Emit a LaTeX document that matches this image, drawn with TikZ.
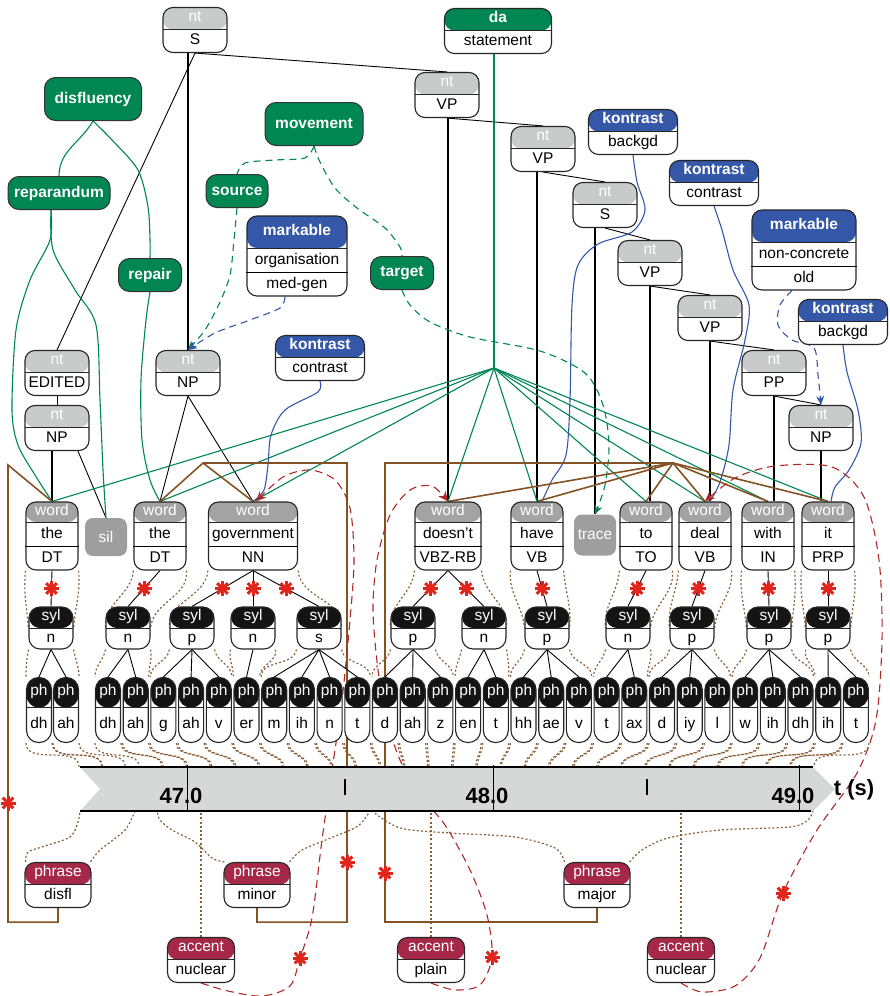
\documentclass[tikz,border=0pt]{standalone}
\usepackage{fontspec}
\setmainfont{Liberation Sans}
\usetikzlibrary{calc,arrows.meta,backgrounds}

\definecolor{ntgray}{RGB}{201,203,203}
\definecolor{wordgray}{RGB}{163,163,163}
\definecolor{silgray}{RGB}{158,158,158}
\definecolor{dagreen}{RGB}{0,134,82}
\definecolor{kblue}{RGB}{52,87,168}
\definecolor{phred}{RGB}{166,40,72}
\definecolor{framebrown}{RGB}{132,82,35}
\definecolor{dotbrown}{RGB}{140,96,55}
\definecolor{accred}{RGB}{176,40,40}
\definecolor{astred}{RGB}{224,38,28}
\definecolor{axisgray}{RGB}{214,216,216}

\tikzset{
  every node/.style={font=\fontsize{15.5}{18}\selectfont},
  boxbase/.style={draw=black!85, line width=1.1pt, fill=white, rounded corners=10pt, inner sep=0pt},
  head/.style 2 args={path picture={
      \fill[#1] (path picture bounding box.north west) rectangle ([yshift=-#2]path picture bounding box.north east);
      \draw[line width=1pt] ([yshift=-#2]path picture bounding box.north west) -- ([yshift=-#2]path picture bounding box.north east);}},
  ntbox/.style={boxbase, minimum width=64, minimum height=45, head={ntgray}{22}},
  dabox/.style={boxbase, minimum width=107, minimum height=45, head={dagreen}{22}},
  kbox/.style={boxbase, minimum width=89, minimum height=45, head={kblue}{22}},
  mkbox/.style={boxbase, minimum width=102, minimum height=80, head={kblue}{32}},
  wordbox/.style={boxbase, minimum width=52, minimum height=68, head={wordgray}{20}},
  sylbox/.style={boxbase, minimum width=44, minimum height=42, rounded corners=11pt, head={black!92}{21}},
  phbox/.style={boxbase, minimum width=25, minimum height=65, rounded corners=12pt, head={black!92}{30}},
  phrbox/.style={boxbase, minimum width=66, minimum height=45, head={phred}{22}},
  grnbox/.style={draw=black!80, line width=1pt, fill=dagreen, text=white, rounded corners=11pt,
    font=\bfseries\fontsize{15.5}{18}\selectfont, minimum height=33, inner sep=0pt},
  gapbox/.style={fill=silgray, rounded corners=8pt, text=white, minimum width=42, minimum height=38, inner sep=0pt},
  hdtxt/.style={text=white, inner sep=0pt, text height=10.5pt, text depth=3pt},
  bdtxt/.style={inner sep=0pt, text height=10.5pt, text depth=3pt},
  ticklbl/.style={inner sep=0pt, font=\bfseries\fontsize{22}{24}\selectfont},
  redast/.style={inner sep=0pt, minimum size=18pt, path picture={
      \foreach \a in {0,45,90,135}
        \draw[astred, line width=3pt] (path picture bounding box.center) ++(\a:7.5) -- ++(\a+180:15);}},
  treeline/.style={line width=.9pt},
  stemline/.style={line width=1.8pt},
  daline/.style={dagreen, line width=1.1pt},
  disline/.style={dagreen, line width=1.1pt},
  movline/.style={dagreen, line width=1.1pt, dash pattern=on 7pt off 5pt},
  kline/.style={kblue, line width=1.1pt},
  mkline/.style={kblue, line width=1.1pt, dash pattern=on 7pt off 5pt},
  accline/.style={accred, line width=1.1pt, dash pattern=on 8pt off 5pt},
  phrline/.style={framebrown, line width=1.6pt},
  dotline/.style={dotbrown, line width=1.2pt, dash pattern=on 2pt off 2.2pt},
}

% header + one row
\newcommand\twopart[6][22]{%
  \node[#2] (#3) at (#4) {};
  \node[hdtxt] at ([yshift=-#1/2]#3.north) {#5};
  \node[bdtxt] at ($(#3.south)!.5!([yshift=-#1]#3.north)$) {#6};}
% header + two rows of 24
\newcommand\threepart[6]{%
  \node[#1] (#2) at (#3) {};
  \node[hdtxt] at ($(#2.north)!.5!([yshift=48]#2.south)$) {#4};
  \node[bdtxt] at ([yshift=36]#2.south) {#5};
  \node[bdtxt] at ([yshift=12]#2.south) {#6};
  \draw[line width=1.8pt] ([yshift=24]#2.south west) -- ([yshift=24]#2.south east);}

\begin{document}
\begin{tikzpicture}[x=1pt,y=-1pt]
\useasboundingbox (0,0) rectangle (890,996);

% syntax tree
\twopart{ntbox}{ntS}{195,30}{nt}{S}
\twopart{dabox}{da}{498,31}{\bfseries da}{statement}
\twopart{ntbox}{ntVPa}{447,95}{nt}{VP}
\twopart{ntbox}{ntVPb}{543,149}{nt}{VP}
\twopart{ntbox}{ntSb}{605,205}{nt}{S}
\twopart{ntbox}{ntVPc}{650,263}{nt}{VP}
\twopart{ntbox}{ntVPd}{710,318}{nt}{VP}
\twopart{ntbox}{ntPP}{774,373}{nt}{PP}
\twopart{ntbox}{ntNPr}{821,428}{nt}{NP}
\twopart{ntbox}{ntEDITED}{57,373}{nt}{EDITED}
\twopart{ntbox}{ntNPl}{57,428}{nt}{NP}
\twopart{ntbox}{ntNPm}{188,373}{nt}{NP}

% kontrast and markables
\twopart{kbox}{kbgA}{633,132}{\bfseries kontrast}{backgd}
\twopart{kbox}{kctB}{714,183}{\bfseries kontrast}{contrast}
\twopart{kbox}{kbgC}{843,322}{\bfseries kontrast}{backgd}
\twopart{kbox}{kctL}{320,358}{\bfseries kontrast}{contrast}
\threepart{mkbox, minimum width=100}{mkO}{297,256}{\bfseries markable}{organisation}{med-gen}
\threepart{mkbox, minimum width=104}{mkN}{804,250}{\bfseries markable}{non-concrete}{old}

% disfluency and movement
\node[grnbox, minimum width=97, minimum height=43] (disf) at (93,99) {disfluency};
\node[grnbox, minimum width=102] (rep) at (59,193) {reparandum};
\node[grnbox, minimum width=98, minimum height=43] (mov) at (314,124) {movement};
\node[grnbox, minimum width=62] (src) at (237,191) {source};
\node[grnbox, minimum width=63] (repair) at (150,275) {repair};
\node[grnbox, minimum width=63] (tgt) at (402,273) {target};

% words
\threepart{wordbox}{the}{52,536}{word}{the}{DT}
\node[gapbox] (sil) at (106,537) {sil};
\threepart{wordbox}{theb}{160,536}{word}{the}{DT}
\threepart{wordbox, minimum width=89}{gov}{253,536}{word}{government}{NN}
\threepart{wordbox, minimum width=66}{doesnt}{448,536}{word}{doesn’t}{VBZ-RB}
\threepart{wordbox}{have}{537,536}{word}{have}{VB}
\node[gapbox, minimum height=41] (trace) at (595,535) {trace};
\threepart{wordbox}{to}{646,536}{word}{to}{TO}
\threepart{wordbox}{deal}{705,536}{word}{deal}{VB}
\threepart{wordbox}{with}{768,536}{word}{with}{IN}
\threepart{wordbox}{it}{828,536}{word}{it}{PRP}

% syllables and phones
\foreach \t/\x [count=\k] in {n/51,n/128,p/192,n/253,s/319,p/413,n/484,p/547,n/628,p/692,p/769,p/828}
  {\twopart[21]{sylbox}{s\k}{\x,628}{syl}{\t}}
\twopart[30]{phbox}{p1}{39,710}{ph}{dh}
\twopart[30]{phbox}{p2}{66,710}{ph}{ah}
\foreach \t [count=\k from 3] in {dh,ah,g,ah,v,er,m,ih,n,t,d,ah,z,en,t,hh,ae,v,t,ax,d,iy,l,w,ih,dh,ih,t}
  {\twopart[30]{phbox}{p\k}{{108+27.7*(\k-3)},710}{ph}{\t}}

% phrases and accents
\twopart{phrbox}{disfl}{58,885}{phrase}{disfl}
\twopart{phrbox}{minor}{257,885}{phrase}{minor}
\twopart{phrbox}{major}{597,885}{phrase}{major}
\twopart{phrbox, minimum width=67}{nucA}{201,960}{accent}{nuclear}
\twopart{phrbox, minimum width=67}{plain}{431,960}{accent}{plain}
\twopart{phrbox, minimum width=67}{nucB}{681,960}{accent}{nuclear}

% time axis
\coordinate (axtop) at (0,767);
\coordinate (axbot) at (0,811);
\fill[axisgray] (80,767) -- (813,767) -- (835,789) -- (813,811) -- (80,811) -- (100,789) -- cycle;
\draw[line width=1.8pt] (80,767) -- (813,767) (80,811) -- (811,811);
\foreach \x/\l in {187/47.0,493/48.0,799/49.0}
  {\draw[line width=.8pt] (\x,765) -- (\x,811);
   \node[ticklbl] at (\x-6,796) {\l};}
\foreach \x in {345,647} \draw[line width=2pt] (\x,779) -- (\x,795);
\node[ticklbl] at (854,790) {t (s)};

\begin{pgfonlayer}{background}
% tree edges
\draw[treeline] (ntS.south) -- (ntEDITED.north);
\draw[treeline] (ntS.south) -- (ntVPa.north);
\draw[stemline] (ntNPm.north |- ntS.south) -- (ntNPm.north);
\draw[treeline] (ntVPa.south) -- (ntVPb.north);
\draw[treeline] (ntVPb.south) -- (ntSb.north);
\draw[treeline] (ntSb.south) -- (ntVPc.north);
\draw[treeline] (ntVPc.south) -- (ntVPd.north);
\draw[treeline] (ntVPd.south) -- (ntPP.north);
\draw[treeline] (ntPP.south) -- (ntNPr.north);
\draw[treeline] (ntEDITED.south) -- (ntNPl.north);
\draw[treeline] ([xshift=21]ntNPl.south) -- (sil.north);
\draw[treeline] (ntNPm.south) -- (theb.north);
\draw[treeline] (ntNPm.south) -- (gov.north);
\draw[stemline] (the.north |- ntNPl.south) -- (the.north);
\draw[stemline] (doesnt.north |- ntVPa.south) -- (doesnt.north);
\draw[stemline] (have.north |- ntVPb.south) -- (have.north);
\draw[stemline] (trace.north |- ntSb.south) -- (trace.north);
\draw[stemline] (ntVPc.south) -- (ntVPc.south |- to.north);
\draw[stemline] (ntVPd.south) -- (ntVPd.south |- deal.north);
\draw[stemline] (ntPP.south) -- (ntPP.south |- with.north);
\draw[stemline] (ntNPr.south) -- (ntNPr.south |- it.north);

% dialogue act
\coordinate (hub) at (494,368);
\draw[daline] (hub |- da.south) -- (hub);
\foreach \w in {the,theb,gov,doesnt,have,to,deal,with,it}
  \draw[daline] (hub) -- (\w.north);

% disfluency
\draw[disline] (disf.south) to[out=-120,in=90] (rep.north);
\draw[disline] plot[smooth] coordinates {(disf.south) (112,140) (138,170) (148,207) (150,240) (repair.north)};
\draw[disline] plot[smooth] coordinates {([xshift=-8]rep.south) (50,240) (30,280) (16,330) (12,410) (18,445) (35,475) (the.north)};
\draw[disline] plot[smooth] coordinates {([xshift=-8]rep.south) (53,250) (75,290) (96,325) (100,400) (103,470) (sil.north)};
\draw[disline] plot[smooth] coordinates {(repair.south) (146,320) (141,380) (142,440) (150,480) (theb.north)};

% movement
\draw[movline] plot[smooth] coordinates {(mov.south) (305,158) (275,160) (245,163) (src.north)};
\draw[movline] plot[smooth] coordinates {(mov.south) (320,162) (335,188) (357,208) (385,228) (400,247) (tgt.north)};
\draw[movline,-{Stealth[length=9pt,width=8pt]}] plot[smooth] coordinates {(src.south) (234,240) (230,275) (220,302) (205,330) (ntNPm.north)};
\draw[movline,-{Stealth[length=9pt,width=8pt]}] plot[smooth] coordinates {(tgt.south) (410,305) (430,322) (470,337) (540,351) (585,373) (603,405) (609,445) (605,485) (trace.north)};

% markables and kontrast
\draw[mkline,-{Stealth[length=9pt,width=8pt]}] plot[smooth] coordinates {([xshift=-12]mkO.south) (280,308) (250,320) (215,333) (ntNPm.north)};
\draw[mkline,-{Stealth[length=9pt,width=8pt]}] plot[smooth] coordinates {([xshift=-12]mkN.south) (780,305) (778,325) (792,340) (814,348) (818,375) (ntNPr.north)};
\draw[kline] plot[smooth] coordinates {(kctL.south) (318,392) (285,410) (271,435) (268,465) (264,490) (gov.north)};
\draw[kline] plot[smooth] coordinates {(kbgA.south) (637,182) (645,210) (632,232) (598,244) (578,265) (572,305) (570,400) (566,455) (552,480) ([xshift=5]have.north)};
\draw[kline] plot[smooth] coordinates {(kctB.south) (722,230) (733,270) (749,305) (745,340) (733,390) (729,445) (720,482) ([xshift=5]deal.north)};
\draw[kline] plot[smooth] coordinates {(kbgC.south) (847,372) (858,410) (861,443) (849,470) (835,487) ([xshift=3]it.north)};

% phrase frames
\coordinate (dfl) at (8,465);
\coordinate (mnl) at (203,463);
\coordinate (mnr) at (347,463);
\coordinate (mjl) at (385,463);
\coordinate (mjr) at (673,463);
\draw[phrline] (disfl.south) -- ++(0,14) -| (dfl) -- (the.north);
\draw[phrline] (minor.south) -- ++(0,14) -| (mnr) -- (mnl) -- (theb.north);
\draw[phrline] (mnl) -- (gov.north);
\draw[phrline] (major.south) -- ++(0,14) -| (mjl) -- (mjr);
\foreach \w in {doesnt,have,to,deal,with,it}
  \draw[phrline] (mjr) -- (\w.north);
\node[redast] at (8,803) {};
\node[redast] at (347,862) {};
\node[redast] at (385,873) {};

% accents
\draw[accline,-{Stealth[length=10pt,width=9pt]}] plot[smooth] coordinates {(nucA.south) (228,991) (262,996) (290,986) (300,958) (312,918) (322,840) (332,770) (342,700) (350,620) (354,560) (350,508) (335,480) (310,470) (283,477) ([xshift=3]gov.north)};
\draw[accline,-{Stealth[length=10pt,width=9pt]}] plot[smooth] coordinates {(plain.south) (455,990) (480,985) (492,957) (487,915) (470,870) (445,825) (420,795) (400,760) (387,720) (378,670) (373,610) (377,560) (390,515) (410,490) (432,486) (doesnt.north)};
\draw[accline,-{Stealth[length=10pt,width=9pt]}] plot[smooth] coordinates {(nucB.south) (702,992) (735,986) (760,958) (783,893) (817,830) (857,773) (876,720) (882,640) (879,560) (864,497) (832,467) (775,466) (735,478) (deal.north)};
\node[redast] at (300,958) {};
\node[redast] at (492,957) {};
\node[redast] at (783,893) {};

% word - syllable - phone
\foreach \w/\s in {the/1,theb/2,gov/3,gov/4,gov/5,doesnt/6,doesnt/7,have/8,to/9,deal/10,with/11,it/12}
  \draw[treeline] (\w.south) -- node[redast] {} (s\s.north);
\foreach \w/\a/\b in {the/1/1,theb/2/2,gov/3/5,doesnt/6/7,have/8/8,to/9/9,deal/10/10,with/11/11,it/12/12}
  {\draw[dotline] (\w.south west) to[out=-95,in=95] (s\a.west);
   \draw[dotline] (\w.south east) to[out=-85,in=85] (s\b.east);}
\foreach \s/\a/\b in {1/1/2,2/3/4,3/5/7,4/8/8,5/9/12,6/13/15,7/16/17,8/18/20,9/21/22,10/23/25,11/26/28,12/29/30}
  {\foreach \p in {\a,...,\b} \draw[treeline] (s\s.south) -- (p\p.north);
   \draw[dotline] (s\s.south west) to[out=-100,in=90] (p\a.north west);
   \draw[dotline] (s\s.south east) to[out=-80,in=90] (p\b.north east);}

% alignment to time
\foreach \k in {1,...,30}
  \draw[dotline] let \p1=(p\k.south west), \p2=(p\k.south east),
      \n1={80+(\x1-27)*0.8716}, \n2={80+(\x2-27)*0.8716} in
    (\p1) to[out=-90,in=90] (\n1,767)
    (\p2) to[out=-90,in=90] (\n2,767);
\draw[dotline] plot[smooth] coordinates {([xshift=1]disfl.north west) (28,852) (45,846) (70,837) (78,822) (80,811)};
\draw[dotline] plot[smooth] coordinates {([xshift=-1]disfl.north east) (100,850) (125,830) (135,811)};
\draw[dotline] plot[smooth] coordinates {([xshift=1]minor.north west) (212,858) (195,842) (172,830) (160,820) (157,811)};
\draw[dotline] plot[smooth] coordinates {([xshift=-1]minor.north east) (302,850) (333,837) (358,826) (370,811)};
\draw[dotline] plot[smooth] coordinates {([xshift=1]major.north west) (555,848) (515,837) (450,833) (400,828) (372,811)};
\draw[dotline] plot[smooth] coordinates {([xshift=-1]major.north east) (642,850) (668,838) (720,830) (790,827) (808,820) (813,811)};
\draw[dotline] (nucA.north) -- (nucA.north |- axbot);
\draw[dotline] (plain.north) -- (plain.north |- axbot);
\draw[dotline] (nucB.north) -- (nucB.north |- axbot);
\end{pgfonlayer}
\end{tikzpicture}
\end{document}
